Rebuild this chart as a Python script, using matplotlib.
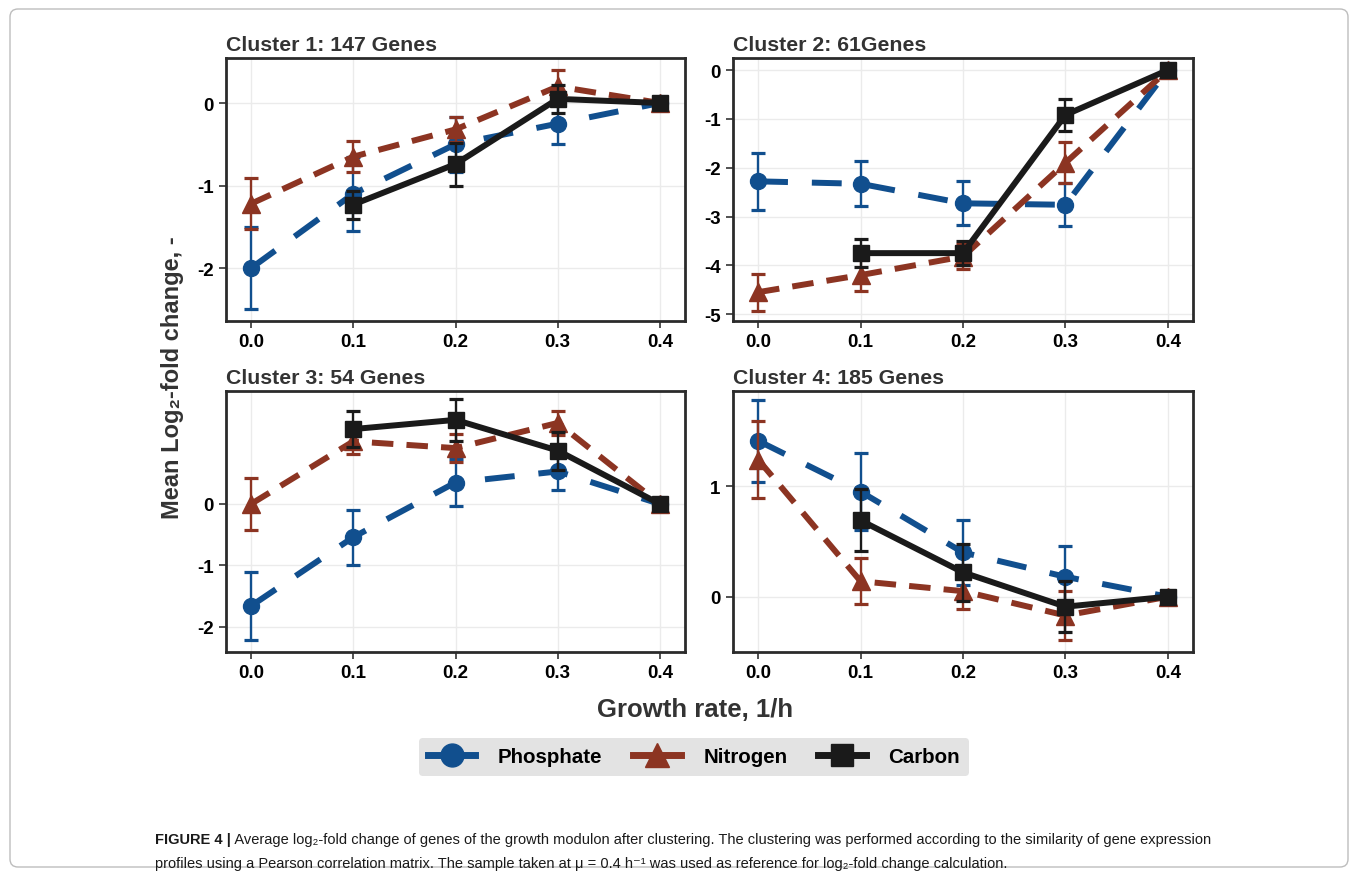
import numpy as np
import matplotlib
matplotlib.use("Agg")
import matplotlib.pyplot as plt
import matplotlib.transforms as mtransforms
from matplotlib.lines import Line2D
from matplotlib.patches import FancyBboxPatch
from matplotlib import font_manager

nan = np.nan
rates = [0.0, 0.1, 0.2, 0.3, 0.4]
series = ["Phosphate", "Nitrogen", "Carbon"]
titles = ["Cluster 1: 147 Genes", "Cluster 2: 61Genes",
          "Cluster 3: 54 Genes", "Cluster 4: 185 Genes"]

# cluster 1
c1_phos = [-2.0, -1.1, -0.5, -0.25, 0.0]
c1_phos_err = [0.5, 0.45, 0.33, 0.25, 0.0]
c1_nitr = [-1.22, -0.65, -0.32, 0.2, 0.0]
c1_nitr_err = [0.31, 0.19, 0.15, 0.2, 0.0]
c1_carb = [nan, -1.23, -0.74, 0.05, 0.0]
c1_carb_err = [nan, 0.17, 0.26, 0.17, 0.0]

# cluster 2
c2_phos = [-2.28, -2.33, -2.73, -2.76, 0.0]
c2_phos_err = [0.58, 0.46, 0.45, 0.44, 0.0]
c2_nitr = [-4.55, -4.2, -3.82, -1.9, 0.0]
c2_nitr_err = [0.38, 0.32, 0.25, 0.42, 0.0]
c2_carb = [nan, -3.75, -3.75, -0.92, 0.0]
c2_carb_err = [nan, 0.28, 0.25, 0.32, 0.0]

# cluster 3
c3_phos = [-1.66, -0.54, 0.35, 0.53, 0.0]
c3_phos_err = [0.56, 0.45, 0.38, 0.31, 0.0]
c3_nitr = [0.0, 1.02, 0.91, 1.32, 0.0]
c3_nitr_err = [0.43, 0.2, 0.23, 0.2, 0.0]
c3_carb = [nan, 1.22, 1.37, 0.87, 0.0]
c3_carb_err = [nan, 0.3, 0.34, 0.31, 0.0]

# cluster 4
c4_phos = [1.41, 0.95, 0.4, 0.18, 0.0]
c4_phos_err = [0.37, 0.35, 0.29, 0.28, 0.0]
c4_nitr = [1.24, 0.14, 0.05, -0.17, 0.0]
c4_nitr_err = [0.35, 0.21, 0.16, 0.22, 0.0]
c4_carb = [nan, 0.69, 0.22, -0.09, 0.0]
c4_carb_err = [nan, 0.28, 0.26, 0.23, 0.0]

panels = [
    (c1_phos, c1_phos_err, c1_nitr, c1_nitr_err, c1_carb, c1_carb_err),
    (c2_phos, c2_phos_err, c2_nitr, c2_nitr_err, c2_carb, c2_carb_err),
    (c3_phos, c3_phos_err, c3_nitr, c3_nitr_err, c3_carb, c3_carb_err),
    (c4_phos, c4_phos_err, c4_nitr, c4_nitr_err, c4_carb, c4_carb_err),
]
yticks = [[-2, -1, 0], [-5, -4, -3, -2, -1, 0], [-2, -1, 0], [0, 1]]
ylims = [(-2.64, 0.545), (-5.14, 0.246), (-2.41, 1.84), (-0.50, 1.86)]

colors = ["#114F8E", "#8C3422", "#1A1A1A"]
markers = ["o", "^", "s"]
msizes = [11.5, 12.5, 11]
dashes = [(5.0, 4.0), (3.6, 2.2), None]

plt.rcParams["font.family"] = ["Liberation Sans", "DejaVu Sans"]
plt.rcParams["axes.unicode_minus"] = False

W, H = 1358, 878
fig = plt.figure(figsize=(W / 100, H / 100), dpi=100)

# panel boxes in pixels (left, top, right, bottom)
boxes = [(226, 59, 685, 322), (733, 59, 1193, 322),
         (226, 392, 685, 653), (733, 392, 1193, 653)]

for i, (l, t, r, b) in enumerate(boxes):
    ax = fig.add_axes([l / W, 1 - b / H, (r - l) / W, (b - t) / H])
    vals = panels[i]
    for k in range(3):
        y = vals[2 * k]
        e = vals[2 * k + 1]
        eb = ax.errorbar(rates, y, yerr=e, color=colors[k], lw=4.3, ls="-",
                         marker=markers[k], ms=msizes[k], elinewidth=1.7,
                         capsize=5, capthick=2.3, zorder=3 + k)
        if dashes[k] is not None:
            eb.lines[0].set_dashes(dashes[k])
    ax.set_xlim(-0.0245, 0.4245)
    ax.set_ylim(*ylims[i])
    ax.set_xticks(rates)
    ax.set_xticklabels(["%.1f" % v for v in rates])
    ax.set_yticks(yticks[i])
    ax.grid(True, color="#EBEBEB", lw=1, zorder=0)
    ax.set_axisbelow(True)
    for s in ax.spines.values():
        s.set_color("#2B2B2B")
        s.set_linewidth(2.0)
    ax.tick_params(length=5, width=1.2, color="#333333", pad=4,
                   labelsize=13.5)
    for lab in ax.get_xticklabels() + ax.get_yticklabels():
        lab.set_fontweight("bold")
    ax.set_title(titles[i], loc="left", pad=6, fontsize=15.3,
                 fontweight="bold", color="#333333")

fig.text(172 / W, 1 - 378 / H, "Mean Log\u2082-fold change, -", rotation=90,
         ha="center", va="center", fontsize=17, fontweight="bold",
         color="#333333")
fig.text(695 / W, 1 - 710 / H, "Growth rate, 1/h", ha="center",
         va="center", fontsize=18.5, fontweight="bold", color="#333333")

handles = [Line2D([], [], color=colors[k], lw=5, marker=markers[k],
                  ms=msizes[k] + 5) for k in range(3)]
leg = fig.legend(handles, series, loc="center",
                 bbox_to_anchor=(694 / W, 1 - 758 / H), ncol=3,
                 frameon=True, fancybox=True, facecolor="#E3E3E3",
                 edgecolor="none", framealpha=1, handlelength=2.3,
                 handletextpad=1.1, columnspacing=1.5, borderpad=0.45,
                 prop={"weight": "bold", "size": 14.8})

# outer frame
frame = FancyBboxPatch((10, 10), W - 20, H - 20,
                       boxstyle="round,pad=0,rounding_size=8",
                       transform=mtransforms.IdentityTransform(),
                       facecolor="none", edgecolor="#BDBDBD", lw=1)
fig.add_artist(frame)

# caption
names = {f.name for f in font_manager.fontManager.ttflist}
cap_fam = ["Liberation Sans Narrow"] if "Liberation Sans Narrow" in names \
    else ["Liberation Sans"]
cap_fam = cap_fam + ["DejaVu Sans"]
line1 = (" Average log\u2082-fold change of genes of the growth modulon after "
         "clustering. The clustering was performed according to the "
         "similarity of gene expression")
line2 = ("profiles using a Pearson correlation matrix. The sample taken at "
         "\u03bc = 0.4 h\u207b\u00b9 was used as reference for log\u2082-fold "
         "change calculation.")

fig.canvas.draw()
rend = fig.canvas.get_renderer()
fs = 12
t1 = fig.text(155 / W, 1 - 840 / H, "FIGURE 4 |", family=cap_fam,
              fontweight="bold", fontsize=fs, va="center", color="#1A1A1A")
bb = t1.get_window_extent(rend)
t2 = fig.text(bb.x1 / W, 1 - 840 / H, line1, family=cap_fam, fontsize=fs,
              va="center", color="#1A1A1A")
bb2 = t2.get_window_extent(rend)
scale = (1205 - 155) / (bb2.x1 - bb.x0)
fs = fs * scale
t1.set_fontsize(fs)
bb = t1.get_window_extent(rend)
t2.set_fontsize(fs)
t2.set_x(bb.x1 / W)
fig.text(155 / W, 1 - 864 / H, line2, family=cap_fam, fontsize=fs,
         va="center", color="#1A1A1A")

fig.savefig("out.png", dpi=100)
